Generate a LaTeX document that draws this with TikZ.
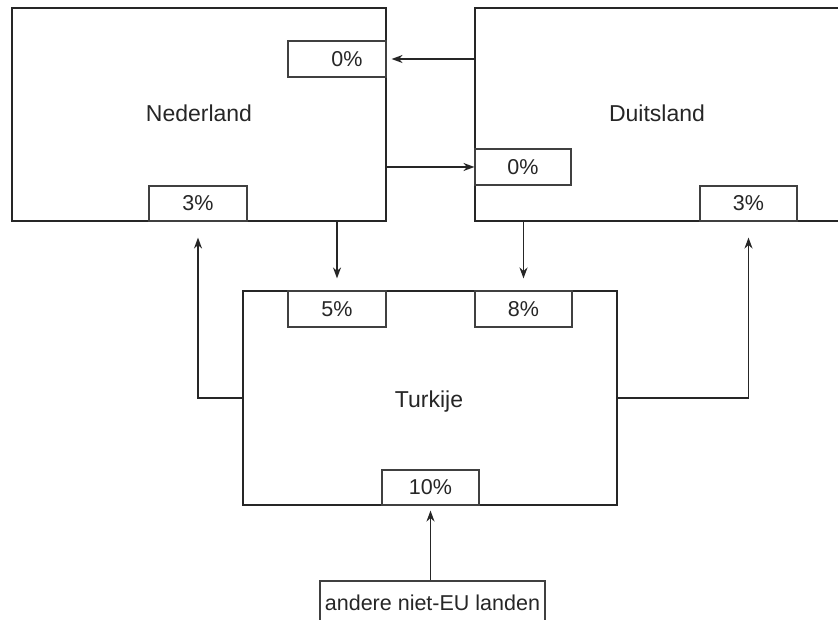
\documentclass[tikz,border=0pt]{standalone}
\usepackage{fontspec}
\setmainfont{Liberation Sans}
\usetikzlibrary{arrows.meta}
\begin{document}
\begin{tikzpicture}[x=1pt,y=-1pt,
  box/.style={draw=black!85, line width=1.6pt, inner sep=0pt},
  pct/.style={draw=black!75, line width=1.1pt, inner sep=0pt, text=black!85, font=\fontsize{21.5}{25}\selectfont},
  lbl/.style={text=black!85, font=\fontsize{23}{27}\selectfont},
  arr/.style={line width=1.8pt, draw=black!85, -{Stealth[length=11pt,width=8pt]}}]
\useasboundingbox (0,0) rectangle (838,620);
\clip (0,0) rectangle (838,620);
% main boxes
\node[box, minimum width=374pt, minimum height=213pt] (ned) at (199,114.5) {};
\node[box, minimum width=365pt, minimum height=213pt] (dui) at (657.5,114.5) {};
\node[box, minimum width=374pt, minimum height=214pt] (tur) at (430,398) {};
\node[lbl] (nedl) at (199,113) {Nederland};
\node[lbl] (duil) at (657,113) {Duitsland};
\node[lbl] (turl) at (429,402) {Turkije};
% percentage boxes
\node[pct, fill=white, minimum width=98pt, minimum height=36pt] (n0) at (337,59) {\hspace{20pt}0\%};
\node[pct, fill=white, minimum width=96pt, minimum height=36pt] (d0) at (523,167) {0\%\hspace{32pt}};
\node[pct, fill=white, minimum width=98pt, minimum height=35pt] (n3) at (198,203.5) {3\%};
\node[pct, fill=white, minimum width=97pt, minimum height=35pt] (d3) at (748.5,203.5) {3\%};
\node[pct, fill=white, minimum width=98pt, minimum height=36pt] (t5) at (337,309) {5\%\hspace{10pt}};
\node[pct, fill=white, minimum width=97pt, minimum height=36pt] (t8) at (523.5,309) {8\%};
\node[pct, fill=white, minimum width=97pt, minimum height=35pt] (t10) at (430.5,487.5) {10\%};
\node[pct, fill=white, minimum width=225pt, minimum height=44pt] (oth) at (432.5,603) {andere niet-EU landen};
% connectors
\draw[arr] (dui.west |- n0.east) -- ([xshift=5pt]n0.east);
\draw[arr] (ned.east |- d0.west) -- (d0.west);
\draw[arr] (ned.south -| t5.north) -- ([yshift=12pt]t5.north);
\draw[arr] (dui.south -| t8.north) -- ([yshift=12pt]t8.north);
\draw[arr] (tur.west) -| ([yshift=-16pt]n3.south);
\draw[arr] (tur.east) -| ([yshift=-16pt]d3.south);
\draw[arr] (oth.north -| t10.south) -- ([yshift=-5pt]t10.south);
\end{tikzpicture}
\end{document}
